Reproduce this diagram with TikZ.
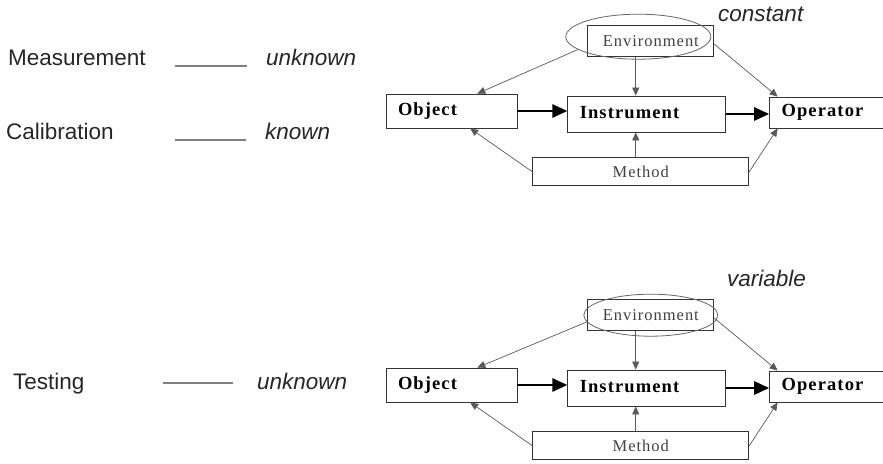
\documentclass[tikz,border=0pt]{standalone}
\usepackage{fontspec}
\setmainfont{Liberation Serif}
\setsansfont{Liberation Sans}
\newfontfamily\boxfont[LetterSpace=6]{Liberation Serif}
\usetikzlibrary{positioning,shapes.geometric,arrows.meta}

\begin{document}
\begin{tikzpicture}[x=1pt,y=1pt,
	bigbox/.style={draw=black!80,line width=0.8pt,inner xsep=12pt,inner ysep=0pt,align=left,text height=13pt,text depth=4pt,font=\boxfont\fontsize{18.5}{18.5}\selectfont\bfseries},
	smallbox/.style={draw=black!80,line width=0.8pt,inner sep=0pt,text=black!75,font=\boxfont\fontsize{16.5}{16.5}\selectfont},
	ring/.style={draw=black!60,line width=0.8pt,ellipse,inner sep=0pt},
	thinarrow/.style={draw=black!65,line width=0.7pt,-{Triangle[length=8pt,width=7pt]}},
	thickarrow/.style={line width=2.6pt,-{Triangle[length=15pt,width=13pt]}},
	word/.style={inner sep=0pt,anchor=base west,text=black!85,font=\sffamily\fontsize{22.5}{22.5}\selectfont},
	wordit/.style={word,font=\sffamily\itshape\fontsize{22.5}{22.5}\selectfont},
	blank/.style={draw=black!50,line width=1.2pt}]
	\useasboundingbox (0,0) rectangle (883,463);

	% left column
	\node[word]		(meas)	at (8,397)		{Measurement};
	\node[wordit]	(unk1)	at (266,397)	{unknown};
	\node[word]		(cal)	at (6,323)		{Calibration};
	\node[wordit]	(kno)	at (265,323)	{known};
	\node[word]		(test)	at (13,73)		{Testing};
	\node[wordit]	(unk2)	at (257,73)		{unknown};

	\coordinate (b1a) at (175,397);	\coordinate (b1b) at (247,397);
	\coordinate (b2a) at (175,323);	\coordinate (b2b) at (246,323);
	\coordinate (b3a) at (163,80);	\coordinate (b3b) at (233,80);
	\draw[blank] (b1a) -- (b1b);
	\draw[blank] (b2a) -- (b2b);
	\draw[blank] (b3a) -- (b3b);

	% upper diagram
	\node[bigbox,text width=107pt,minimum height=34pt]							(obj1)	at (451.5,352)	{Object};
	\node[bigbox,text width=134pt,minimum height=36pt,right=50pt of obj1,yshift=-3pt]	(ins1)	{Instrument};
	\node[bigbox,text width=90pt,minimum height=31pt,right=43pt of ins1,yshift=1.5pt]	(opr1)	{Operator};
	\node[smallbox,minimum width=216pt,minimum height=28pt,below=25pt of ins1,xshift=-6pt]	(met1)	{Method};
	\node[smallbox,minimum width=126pt,minimum height=31pt,above=39pt of ins1,xshift=4pt]	(env1)	{Environment};
	\node[ring,minimum width=145pt,minimum height=45pt,xshift=-12.5pt,yshift=4pt]		(ell1)	at (env1) {};
	\node[wordit]	(con)	at (718,441)	{constant};

	\draw[thinarrow]	(ell1.192) -- (obj1.34);
	\draw[thinarrow]	(ins1.121 |- env1.south) -- (ins1.121);
	\draw[thinarrow]	(env1.357) -- (opr1.162);
	\draw[thickarrow]	(obj1.east) -- (obj1.east -| ins1.west);
	\draw[thickarrow]	(ins1.east) -- (ins1.east -| opr1.west);
	\draw[thinarrow]	(met1.west) -- (obj1.317);
	\draw[thinarrow]	(met1.north -| ins1.239) -- (ins1.239);
	\draw[thinarrow]	(met1.east) -- (opr1.198);

	% lower diagram
	\node[bigbox,text width=107pt,minimum height=34pt]							(obj2)	at (451.5,78)	{Object};
	\node[bigbox,text width=134pt,minimum height=36pt,right=50pt of obj2,yshift=-3pt]	(ins2)	{Instrument};
	\node[bigbox,text width=90pt,minimum height=31pt,right=43pt of ins2,yshift=1.5pt]	(opr2)	{Operator};
	\node[smallbox,minimum width=216pt,minimum height=28pt,below=25pt of ins2,xshift=-6pt]	(met2)	{Method};
	\node[smallbox,minimum width=126pt,minimum height=31pt,above=39pt of ins2,xshift=4pt]	(env2)	{Environment};
	\node[ring,minimum width=134pt,minimum height=42pt,yshift=-0.5pt]				(ell2)	at (env2) {};
	\node[wordit]	(var)	at (727,176)	{variable};

	\draw[thinarrow]	(ell2.186) -- (obj2.34);
	\draw[thinarrow]	(ins2.121 |- env2.south) -- (ins2.121);
	\draw[thinarrow]	(env2.357) -- (opr2.162);
	\draw[thickarrow]	(obj2.east) -- (obj2.east -| ins2.west);
	\draw[thickarrow]	(ins2.east) -- (ins2.east -| opr2.west);
	\draw[thinarrow]	(met2.west) -- (obj2.317);
	\draw[thinarrow]	(met2.north -| ins2.239) -- (ins2.239);
	\draw[thinarrow]	(met2.east) -- (opr2.198);
\end{tikzpicture}
\end{document}
